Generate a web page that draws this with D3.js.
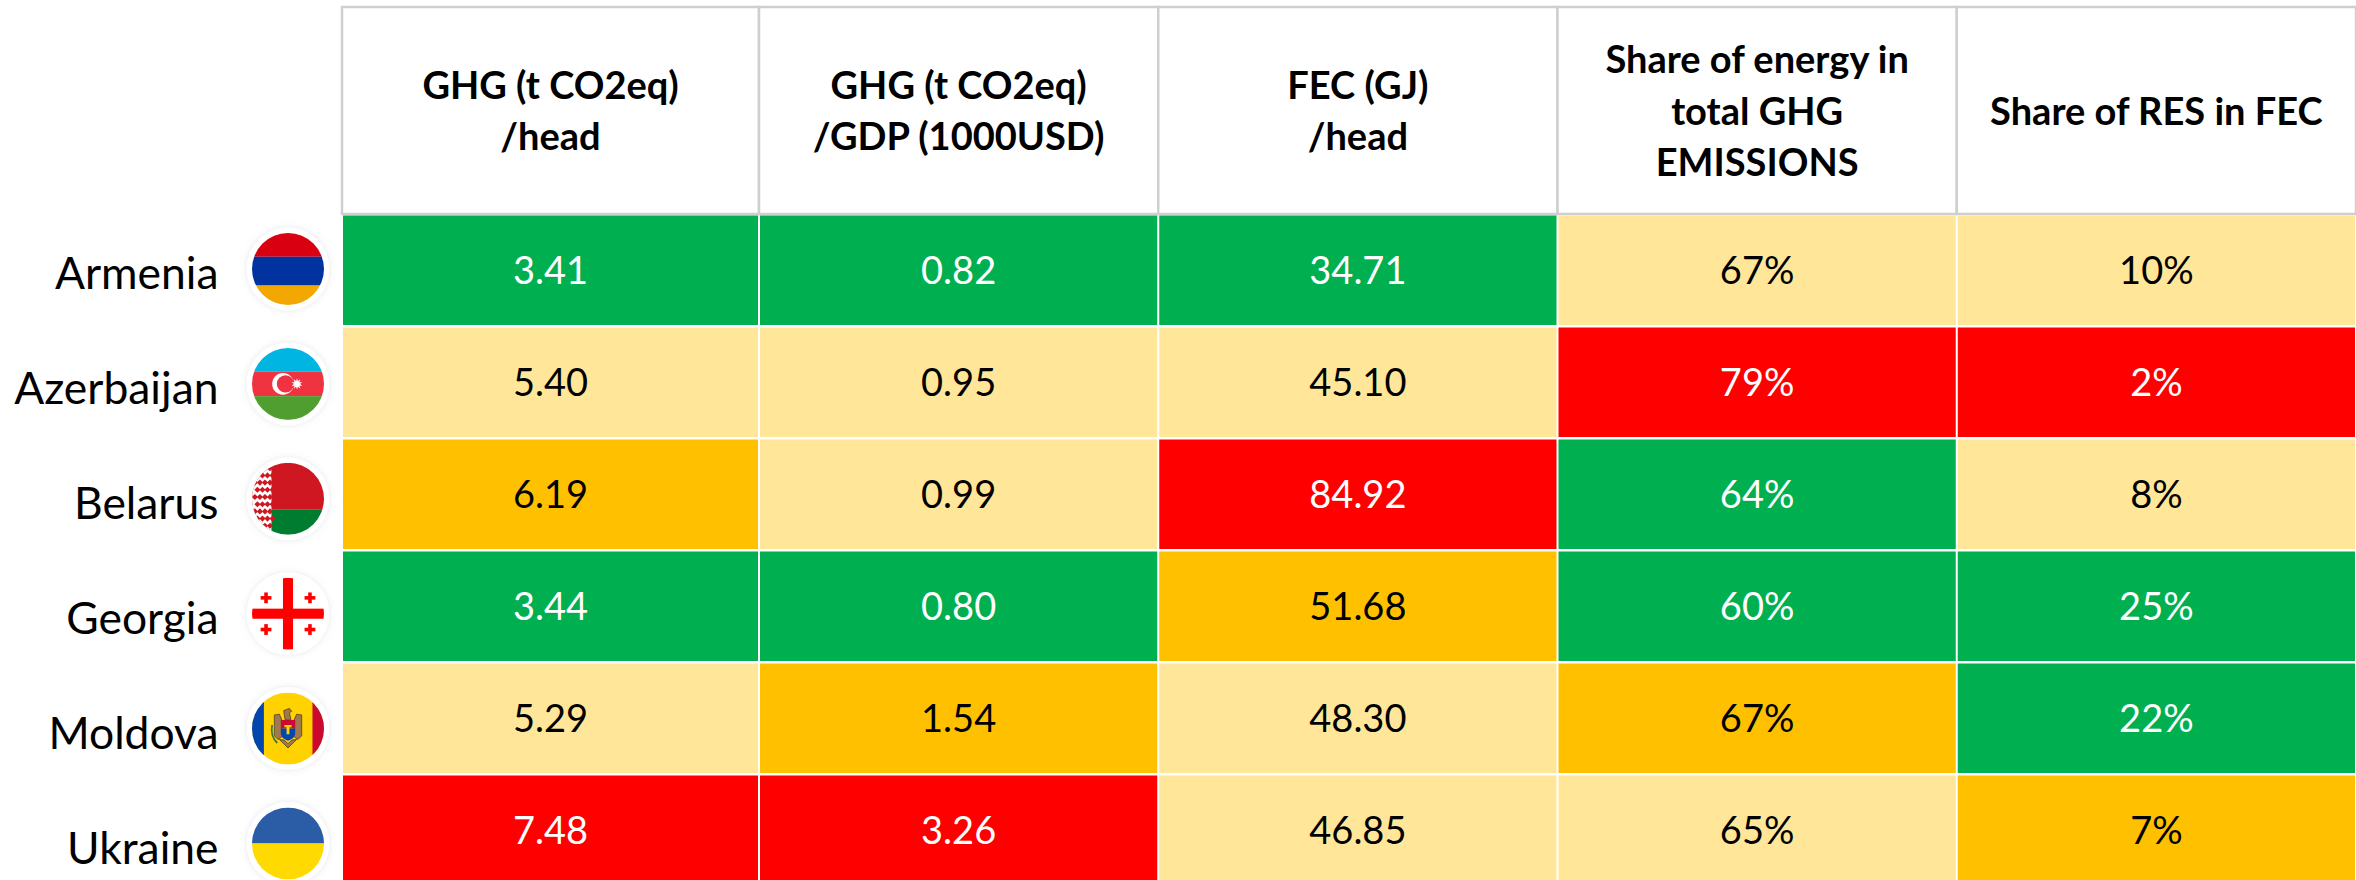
<!DOCTYPE html>
<html>
<head>
<meta charset="utf-8">
<script src="https://cdn.jsdelivr.net/npm/d3@7"></script>
<style>
  html, body { margin: 0; background: #fff; overflow: hidden; }
  text { font-family: Lato, "Open Sans", sans-serif; }
</style>
</head>
<body>
<div id="chart-area"></div>
<script>
const WIDTH = 2356
const HEIGHT = 880

const countries = ["Armenia", "Azerbaijan", "Belarus", "Georgia", "Moldova", "Ukraine"]
const columns = ["ghgHead", "ghgGdp", "fecHead", "energyShare", "resShare"]
const headerLines = [
  ["GHG (t CO2eq)", "/head"],
  ["GHG (t CO2eq)", "/GDP (1000USD)"],
  ["FEC (GJ)", "/head"],
  ["Share of energy in", "total GHG", "EMISSIONS"],
  ["Share of RES in FEC"]
]

const ghgHead = ["3.41", "5.40", "6.19", "3.44", "5.29", "7.48"]
const ghgGdp = ["0.82", "0.95", "0.99", "0.80", "1.54", "3.26"]
const fecHead = ["34.71", "45.10", "84.92", "51.68", "48.30", "46.85"]
const energyShare = ["67%", "79%", "64%", "60%", "67%", "65%"]
const resShare = ["10%", "2%", "8%", "25%", "22%", "7%"]
const cellValues = [ghgHead, ghgGdp, fecHead, energyShare, resShare]

// rating of each cell, same order as the values
const ghgHeadRating = ["good", "mid", "high", "good", "mid", "bad"]
const ghgGdpRating = ["good", "mid", "mid", "good", "high", "bad"]
const fecHeadRating = ["good", "mid", "bad", "high", "mid", "mid"]
const energyShareRating = ["mid", "bad", "good", "good", "high", "mid"]
const resShareRating = ["mid", "bad", "mid", "good", "good", "high"]
const cellRatings = [ghgHeadRating, ghgGdpRating, fecHeadRating, energyShareRating, resShareRating]

const ratings = ["good", "mid", "high", "bad"]
const fillColor = d3.scaleOrdinal().domain(ratings).range(["#00b050", "#ffe699", "#ffc000", "#ff0000"])
const textColor = d3.scaleOrdinal().domain(ratings).range(["#ffffff", "#000000", "#000000", "#ffffff"])

const svg = d3.select("#chart-area").append("svg")
  .attr("width", WIDTH)
  .attr("height", HEIGHT)
  .style("display", "block")

// Scales
const TABLE_LEFT = 342
const FIRST_COL = 417
const x = d3.scaleBand()
  .domain(columns.slice(1))
  .range([TABLE_LEFT + FIRST_COL, WIDTH])
const colX = c => c === columns[0] ? TABLE_LEFT : x(c)
const colW = c => c === columns[0] ? FIRST_COL : x.bandwidth()

const ROW_H = 112
const ROW_TOP = 215
const y = d3.scaleBand()
  .domain(countries)
  .range([ROW_TOP, ROW_TOP + ROW_H * countries.length])

// the country labels and flags sit on a wider pitch than the table rows
const LABEL_STEP = 114.9
const yLabel = d3.scalePoint()
  .domain(countries)
  .range([269, 269 + LABEL_STEP * (countries.length - 1)])

// Header
const header = svg.append("g")
columns.forEach((c, i) => {
  header.append("rect")
    .attr("x", colX(c))
    .attr("y", 7)
    .attr("width", colW(c))
    .attr("height", ROW_TOP - 8)
    .attr("fill", "#fff")
    .attr("stroke", "#cfcfcf")
    .attr("stroke-width", 2.5)

  const cx = colX(c) + colW(c) / 2
  const lines = headerLines[i]
  lines.forEach((line, j) => {
    header.append("text")
      .attr("x", cx)
      .attr("y", 124.5 + (j - (lines.length - 1) / 2) * 51.5)
      .attr("text-anchor", "middle")
      .attr("font-size", 38)
      .attr("font-weight", 700)
      .attr("fill", "#000")
      .text(line)
  })
})

// Cells
columns.forEach((c, i) => {
  const col = svg.append("g")
  countries.forEach((country, r) => {
    col.append("rect")
      .attr("x", colX(c) + 1)
      .attr("y", y(country) + 0.5)
      .attr("width", colW(c) - 2)
      .attr("height", y.bandwidth() - 2.5)
      .attr("fill", fillColor(cellRatings[i][r]))
    col.append("text")
      .attr("x", colX(c) + colW(c) / 2)
      .attr("y", y(country) + y.bandwidth() / 2 + 13)
      .attr("text-anchor", "middle")
      .attr("font-size", 38)
      .attr("fill", textColor(cellRatings[i][r]))
      .text(cellValues[i][r])
  })
})

// Row labels
svg.append("g").selectAll("text")
  .data(countries)
  .join("text")
  .attr("x", 218.5)
  .attr("y", d => yLabel(d) + 20)
  .attr("text-anchor", "end")
  .attr("font-size", 44.4)
  .attr("fill", "#000")
  .text(d => d)

// Flags, drawn on a circle of radius 100
const defs = svg.append("defs")
defs.append("clipPath").attr("id", "flag-clip")
  .append("circle").attr("r", 100)
defs.append("filter").attr("id", "halo")
  .attr("x", "-30%").attr("y", "-30%").attr("width", "160%").attr("height", "160%")
  .append("feDropShadow")
  .attr("dx", 0).attr("dy", 0).attr("stdDeviation", 3)
  .attr("flood-color", "#9aa3b5").attr("flood-opacity", 0.25)

function stripes(g, rows) {
  rows.forEach(r => {
    g.append("rect").attr("x", -100).attr("width", 200)
      .attr("y", r[0]).attr("height", r[1] - r[0]).attr("fill", r[2])
  })
}

const flagPainters = {
  Armenia: g => stripes(g, [[-100, -34, "#d90012"], [-34, 46, "#0033a0"], [46, 100, "#f2a800"]]),
  Azerbaijan: g => {
    stripes(g, [[-100, -34, "#00b5e2"], [-34, 34, "#ef3340"], [34, 100, "#509e2f"]])
    g.append("circle").attr("cx", -14).attr("r", 30).attr("fill", "#fff")
    g.append("circle").attr("cx", -7).attr("r", 24).attr("fill", "#ef3340")
    g.append("path").attr("transform", "translate(25,0)")
      .attr("d", d3.symbol(d3.symbolStar, 280)()).attr("fill", "#fff")
    g.append("path").attr("transform", "translate(25,0) rotate(36)")
      .attr("d", d3.symbol(d3.symbolStar, 280)()).attr("fill", "#fff")
  },
  Belarus: g => {
    stripes(g, [[-100, 29, "#ce1720"], [29, 100, "#007c30"]])
    g.append("rect").attr("x", -100).attr("y", -100).attr("width", 54).attr("height", 200).attr("fill", "#fff")
    d3.range(-85, 90, 20).forEach((py, k) => {
      d3.range(-92, -48, 14).forEach(px => {
        g.append("rect")
          .attr("x", -6).attr("y", -6).attr("width", 12).attr("height", 12)
          .attr("fill", "#ce1720")
          .attr("transform", `translate(${px + (k % 2) * 7},${py}) rotate(45)`)
      })
    })
  },
  Georgia: g => {
    g.append("rect").attr("x", -100).attr("y", -100).attr("width", 200).attr("height", 200).attr("fill", "#fff")
    g.append("rect").attr("x", -14).attr("y", -100).attr("width", 28).attr("height", 200).attr("fill", "#ff0000")
    g.append("rect").attr("x", -100).attr("y", -14).attr("width", 200).attr("height", 28).attr("fill", "#ff0000")
    ;[[-61, -44], [61, -44], [-61, 44], [61, 44]].forEach(p => {
      const s = g.append("g").attr("transform", `translate(${p[0]},${p[1]})`)
      s.append("rect").attr("x", -5).attr("y", -15).attr("width", 10).attr("height", 30).attr("fill", "#ff0000")
      s.append("rect").attr("x", -15).attr("y", -5).attr("width", 30).attr("height", 10).attr("fill", "#ff0000")
    })
  },
  Moldova: g => {
    g.append("rect").attr("x", -100).attr("y", -100).attr("width", 200).attr("height", 200).attr("fill", "#ffd200")
    g.append("rect").attr("x", -100).attr("y", -100).attr("width", 33).attr("height", 200).attr("fill", "#0046ae")
    g.append("rect").attr("x", 68).attr("y", -100).attr("width", 32).attr("height", 200).attr("fill", "#cc092f")
    // coat of arms
    g.append("path").attr("d", "M-38,-38 L-24,-40 L-16,-22 L-16,22 L-28,30 L-38,20 Z M38,-38 L24,-40 L16,-22 L16,22 L28,30 L38,20 Z").attr("fill", "#a07a4e").attr("stroke", "#4a3520").attr("stroke-width", 2)
    g.append("path").attr("d", "M-8,-24 L-12,-50 L4,-56 L10,-48 L4,-44 L8,-24 Z").attr("fill", "#a07a4e").attr("stroke", "#4a3520").attr("stroke-width", 2)
    g.append("path").attr("d", "M-20,-24 H20 V0 H-20 Z").attr("fill", "#cc092f")
    g.append("path").attr("d", "M-20,0 H20 V12 Q20,26 0,34 Q-20,26 -20,12 Z").attr("fill", "#0046ae")
    g.append("path").attr("d", "M-4,-8 H4 V16 H-4 Z M-10,-10 H10 V-4 H-10 Z").attr("fill", "#ffd200")
    g.append("path").attr("d", "M-24,30 L0,54 L24,30 L10,32 L0,42 L-10,32 Z").attr("fill", "#a07a4e").attr("stroke", "#4a3520").attr("stroke-width", 2)
    g.append("path").attr("d", "M-44,-10 Q-50,20 -30,40").attr("fill", "none").attr("stroke", "#3d7a3a").attr("stroke-width", 5)
  },
  Ukraine: g => stripes(g, [[-100, 0, "#2b5ca6"], [0, 100, "#ffda00"]])
}

const FLAG_X = 288
const FLAG_R = 36
const flags = svg.append("g")
countries.forEach(country => {
  const cy = yLabel(country)
  flags.append("circle")
    .attr("cx", FLAG_X).attr("cy", cy).attr("r", FLAG_R + 5.5)
    .attr("fill", "#fff")
    .attr("filter", "url(#halo)")
  const g = flags.append("g")
    .attr("transform", `translate(${FLAG_X},${cy}) scale(${FLAG_R / 100})`)
    .attr("clip-path", "url(#flag-clip)")
  flagPainters[country](g)
})
</script>
</body>
</html>
